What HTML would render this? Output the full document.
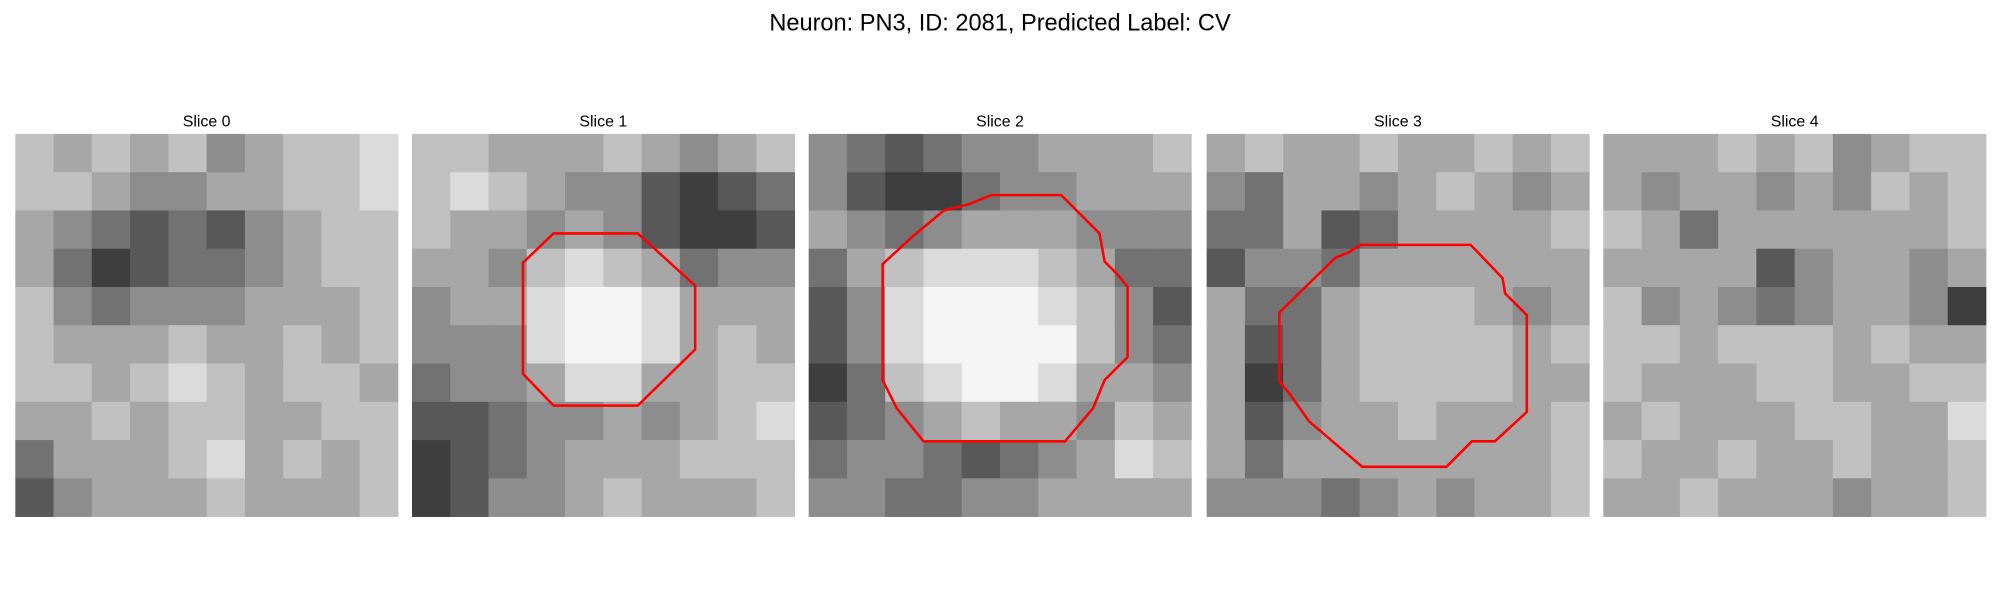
<!DOCTYPE html>
<html><head><meta charset="utf-8"><style>
html,body{margin:0;padding:0;background:#fff;}
svg{display:block;font-family:"Liberation Sans","DejaVu Sans",sans-serif;}
</style></head><body>
<svg id="fig" width="2000" height="600" viewBox="0 0 1568 470.4" xmlns="http://www.w3.org/2000/svg">
<rect width="1568" height="470.4" fill="#fff"/>
<text x="784" y="24" text-anchor="middle" font-size="18.5" fill="#000">Neuron: PN3, ID: 2081, Predicted Label: CV</text>
<g id="panels"></g>
</svg>
<script>
const sliceTitles = ["Slice 0","Slice 1","Slice 2","Slice 3","Slice 4"];
const slice0 = [[7,6,7,6,7,5,6,7,7,8],[7,7,6,5,5,6,6,7,7,8],[6,5,4,3,4,3,5,6,7,7],[6,4,2,3,4,4,5,6,7,7],[7,5,4,5,5,5,6,6,6,7],[7,6,6,6,7,6,6,7,6,7],[7,7,6,7,8,7,6,7,7,6],[6,6,7,6,7,7,6,6,7,7],[4,6,6,6,7,8,6,7,6,7],[3,5,6,6,6,7,6,6,6,7]];
const slice1 = [[7,7,6,6,6,7,6,5,6,7],[7,8,7,6,5,5,3,2,3,4],[7,6,6,5,6,5,3,2,2,3],[6,6,5,7,8,7,6,4,5,5],[5,6,6,8,9,9,8,6,6,6],[5,5,5,8,9,9,8,6,7,6],[4,5,5,6,8,8,6,6,7,7],[3,3,4,5,5,6,5,6,7,8],[2,3,4,5,6,6,6,7,7,7],[2,3,5,5,6,7,6,6,6,7]];
const slice2 = [[5,4,3,4,5,5,6,6,6,7],[5,3,2,2,4,5,5,6,6,6],[6,5,4,5,6,6,6,5,5,5],[4,6,7,8,8,8,7,6,4,4],[3,5,8,9,9,9,8,7,5,3],[3,5,8,9,9,9,9,7,5,4],[2,4,7,8,9,9,8,6,6,5],[3,4,5,6,7,6,6,5,7,6],[4,5,5,4,3,4,5,6,8,7],[5,5,4,4,5,5,6,6,6,6]];
const slice3 = [[6,7,6,6,7,6,6,7,6,7],[5,4,6,6,5,6,7,6,5,6],[4,4,6,3,4,6,6,6,6,7],[3,5,5,4,6,6,6,6,6,6],[6,4,4,6,7,7,7,6,5,6],[6,3,4,6,7,7,7,7,6,7],[6,2,4,6,7,7,7,7,6,6],[6,3,5,6,6,7,6,6,6,7],[6,4,6,6,6,6,6,6,6,7],[5,5,5,4,5,6,5,6,6,7]];
const slice4 = [[6,6,6,7,6,7,5,6,7,7],[6,5,6,6,5,6,5,7,6,7],[7,6,4,6,6,6,6,6,6,7],[6,6,6,6,3,5,6,6,5,6],[7,5,6,5,4,5,6,6,5,2],[7,7,6,7,7,7,6,7,6,6],[7,6,6,6,7,7,6,6,7,7],[6,7,6,6,6,7,7,6,6,8],[7,6,6,7,6,6,7,6,6,7],[6,6,7,6,6,6,5,6,6,7]];
const slices = [slice0,slice1,slice2,slice3,slice4];
const contour1 = [[434,183],[500,183],[545,224],[545,274],[500,318],[434,318],[410,293],[410,206]];
const contour2 = [[777,153],[832,153],[862,183],[866,205],[876,215],[884,225],[884,280],[866,298],[857,320],[835,346],[724,346],[703,320],[692,298],[692,207],[716,185],[740,165],[760,160]];
const contour3 = [[1067,192],[1153,192],[1178,218],[1180,230],[1197,247],[1197,323],[1172,346],[1154,346],[1134,366],[1068,366],[1026,330],[1012,310],[1003,299],[1003,245],[1047,202],[1057,198]];
const contours = [null,contour1,contour2,contour3,null];

const NS="http://www.w3.org/2000/svg";
const panelX=[12,323,634,946,1257], panelY=105, panelW=300;
const g=document.getElementById('panels');
function gray(v){const c=Math.round(v/9*235+10);return `rgb(${c},${c},${c})`;}
slices.forEach((grid,i)=>{
  const pg=document.createElementNS(NS,'g');
  
  
  const rows=grid.length, cols=grid[0].length, cw=panelW/cols, ch=panelW/rows;
  grid.forEach((row,r)=>row.forEach((v,c)=>{
    const rc=document.createElementNS(NS,'rect');
    
    
    rc.setAttribute('x',panelX[i]+c*cw);rc.setAttribute('y',panelY+r*ch);
    rc.setAttribute('width',cw+0.3);rc.setAttribute('height',ch+0.3);
    rc.setAttribute('fill',gray(v));pg.appendChild(rc);
  }));
  const t=document.createElementNS(NS,'text');
  
  
  t.setAttribute('x',panelX[i]+panelW/2);t.setAttribute('y',99);
  t.setAttribute('text-anchor','middle');t.setAttribute('font-size','12.5');
  t.textContent=sliceTitles[i];pg.appendChild(t);
  if(contours[i]){
    const p=document.createElementNS(NS,'polygon');
    
    
    p.setAttribute('points',contours[i].map(q=>q.join(',')).join(' '));
    p.setAttribute('fill','none');p.setAttribute('stroke','#f00');p.setAttribute('stroke-width','2');
    pg.appendChild(p);
  }
  g.appendChild(pg);
});
</script>
</body></html>
